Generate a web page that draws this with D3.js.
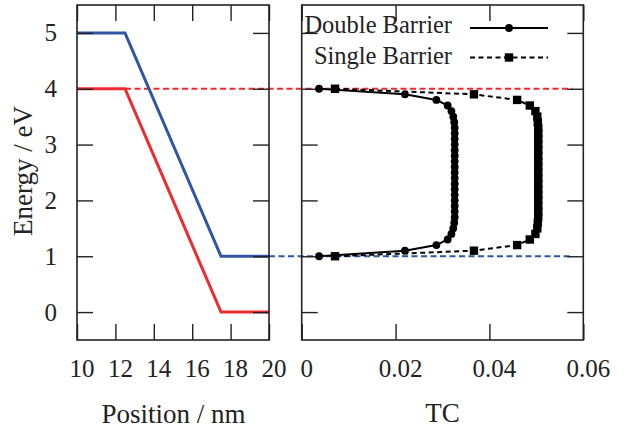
<!DOCTYPE html>
<html>
<head>
<meta charset="utf-8">
<script src="https://cdn.jsdelivr.net/npm/d3@7"></script>
<style>
  body { margin: 0; background: #fff; }
  svg text { font-family: "Liberation Serif", "Times New Roman", serif; fill: #222; }
</style>
</head>
<body>
<div id="chart"></div>
<script>
// band profile (left panel)
var positions = [10, 12.5, 17.5, 20]
var upperBand = [5, 5, 1, 1]
var lowerBand = [4, 4, 0, 0]

// transmission coefficient vs energy (right panel)
var energies = [4.0, 3.9, 3.8, 3.7, 3.6, 3.5, 3.4, 3.3, 3.2, 3.1, 3.0,
                2.9, 2.8, 2.7, 2.6, 2.5, 2.4, 2.3, 2.2, 2.1, 2.0,
                1.9, 1.8, 1.7, 1.6, 1.5, 1.4, 1.3, 1.2, 1.1, 1.0]
var tcDouble = [0.0037, 0.0220, 0.0287, 0.0311, 0.0319, 0.0323, 0.0325, 0.0326, 0.0326, 0.0326, 0.0326,
                0.0326, 0.0326, 0.0326, 0.0326, 0.0326, 0.0326, 0.0326, 0.0326, 0.0326, 0.0326,
                0.0326, 0.0326, 0.0326, 0.0325, 0.0323, 0.0319, 0.0311, 0.0287, 0.0220, 0.0037]
var tcSingle = [0.0071, 0.0367, 0.0459, 0.0486, 0.0498, 0.0502, 0.0503, 0.0504, 0.0504, 0.0504, 0.0504,
                0.0504, 0.0504, 0.0504, 0.0504, 0.0504, 0.0504, 0.0504, 0.0504, 0.0504, 0.0504,
                0.0504, 0.0504, 0.0504, 0.0503, 0.0502, 0.0498, 0.0486, 0.0459, 0.0367, 0.0071]

var posTicks = [10, 12, 14, 16, 18, 20]
var energyTicks = [0, 1, 2, 3, 4, 5]
var tcTicks = [0, 0.02, 0.04, 0.06]

;(function() {
    var width = 637, height = 432
    var plotTop = 5, plotBottom = 340
    var tick = 16

    var svg = d3.select("#chart").append("svg")
        .attr("width", width)
        .attr("height", height)

    var y = d3.scaleLinear().domain([-0.5, 5.5]).range([plotBottom, plotTop])
    var xL = d3.scaleLinear().domain([10, 20]).range([77, 269])
    var xR = d3.scaleLinear().domain([0, 0.06]).range([301.7, 583.3])

    // dashed reference levels running across both panels
    svg.append("line")
        .attr("x1", xL(12.5)).attr("x2", xR(0.0577))
        .attr("y1", y(4)).attr("y2", y(4))
        .attr("stroke", "#ee2a2e").attr("stroke-width", 2)
        .attr("stroke-dasharray", "6,3.5")
    svg.append("line")
        .attr("x1", xL(20)).attr("x2", xR(0.0575))
        .attr("y1", y(1)).attr("y2", y(1))
        .attr("stroke", "#2f55a4").attr("stroke-width", 2)
        .attr("stroke-dasharray", "6,3.5")

    function frame(x0, x1) {
        svg.append("rect")
            .attr("x", x0).attr("y", plotTop)
            .attr("width", x1 - x0).attr("height", plotBottom - plotTop)
            .attr("fill", "none").attr("stroke", "#222").attr("stroke-width", 1.6)
    }

    function styleAxis(g) {
        g.select(".domain").remove()
        g.attr("font-family", null)
        g.selectAll(".tick line").attr("stroke", "#222").attr("stroke-width", 1.4)
        g.selectAll("text").style("font-size", "25px").attr("fill", "#222")
    }

    // ---- left panel ----
    var bandLine = d3.line()
        .x(function(d) { return xL(d[0]) })
        .y(function(d) { return y(d[1]) })

    svg.append("path")
        .datum(d3.zip(positions, lowerBand))
        .attr("d", bandLine)
        .attr("fill", "none").attr("stroke", "#ee2a2e").attr("stroke-width", 3)
    svg.append("path")
        .datum(d3.zip(positions, upperBand))
        .attr("d", bandLine)
        .attr("fill", "none").attr("stroke", "#2f55a4").attr("stroke-width", 3)

    svg.append("g")
        .attr("transform", "translate(0," + plotBottom + ")")
        .call(d3.axisBottom(xL).tickValues(posTicks).tickSize(-tick).tickFormat(d3.format("d")))
        .call(styleAxis)
        .selectAll("text").attr("y", 37).attr("dy", 0).attr("dx", 4.5)
    svg.append("g")
        .attr("transform", "translate(0," + plotTop + ")")
        .call(d3.axisTop(xL).tickValues(posTicks).tickSize(-tick).tickFormat(""))
        .call(styleAxis)
    svg.append("g")
        .attr("transform", "translate(" + xL(10) + ",0)")
        .call(d3.axisLeft(y).tickValues(energyTicks).tickSize(-tick).tickFormat(d3.format("d")))
        .call(styleAxis)
        .selectAll("text").attr("x", -20)
    svg.append("g")
        .attr("transform", "translate(" + xL(20) + ",0)")
        .call(d3.axisRight(y).tickValues(energyTicks).tickSize(-tick).tickFormat(""))
        .call(styleAxis)
    frame(xL(10), xL(20))

    // ---- right panel ----
    var tcFormat = function(d) { return d === 0 ? "0" : d3.format(".2f")(d) }

    svg.append("g")
        .attr("transform", "translate(0," + plotBottom + ")")
        .call(d3.axisBottom(xR).tickValues(tcTicks).tickSize(-tick).tickFormat(tcFormat))
        .call(styleAxis)
        .selectAll("text").attr("y", 37).attr("dy", 0).attr("dx", 4.5)
    svg.append("g")
        .attr("transform", "translate(0," + plotTop + ")")
        .call(d3.axisTop(xR).tickValues(tcTicks).tickSize(-tick).tickFormat(""))
        .call(styleAxis)
    svg.append("g")
        .attr("transform", "translate(" + xR(0) + ",0)")
        .call(d3.axisLeft(y).tickValues(energyTicks).tickSize(-tick).tickFormat(""))
        .call(styleAxis)
    svg.append("g")
        .attr("transform", "translate(" + xR(0.06) + ",0)")
        .call(d3.axisRight(y).tickValues(energyTicks).tickSize(-tick).tickFormat(""))
        .call(styleAxis)
    frame(xR(0), xR(0.06))

    var tcLine = d3.line()
        .x(function(d) { return xR(d[0]) })
        .y(function(d) { return y(d[1]) })

    var single = d3.zip(tcSingle, energies)
    var dbl = d3.zip(tcDouble, energies)

    svg.append("path")
        .datum(single)
        .attr("d", tcLine)
        .attr("fill", "none").attr("stroke", "#000").attr("stroke-width", 2)
        .attr("stroke-dasharray", "5,3.5")
    svg.selectAll(".sq")
        .data(single)
        .enter().append("rect")
        .attr("class", "sq")
        .attr("x", function(d) { return xR(d[0]) - 4.2 })
        .attr("y", function(d) { return y(d[1]) - 4.2 })
        .attr("width", 8.4).attr("height", 8.4)
        .attr("fill", "#000")

    svg.append("path")
        .datum(dbl)
        .attr("d", tcLine)
        .attr("fill", "none").attr("stroke", "#000").attr("stroke-width", 2)
    svg.selectAll(".dot")
        .data(dbl)
        .enter().append("circle")
        .attr("class", "dot")
        .attr("cx", function(d) { return xR(d[0]) })
        .attr("cy", function(d) { return y(d[1]) })
        .attr("r", 3.9)
        .attr("fill", "#000")

    // legend
    var legend = [
        { label: "Double Barrier", dash: null, marker: "circle", ty: 33, ly: 28 },
        { label: "Single Barrier", dash: "5,3.5", marker: "square", ty: 64, ly: 57.5 }
    ]
    legend.forEach(function(d) {
        svg.append("text")
            .attr("x", 452).attr("y", d.ty)
            .attr("text-anchor", "end")
            .style("font-size", "24.5px")
            .text(d.label)
        svg.append("line")
            .attr("x1", 470).attr("x2", 548)
            .attr("y1", d.ly).attr("y2", d.ly)
            .attr("stroke", "#000").attr("stroke-width", 2)
            .attr("stroke-dasharray", d.dash)
        if (d.marker === "circle") {
            svg.append("circle").attr("cx", 509).attr("cy", d.ly).attr("r", 3.9).attr("fill", "#000")
        } else {
            svg.append("rect").attr("x", 504.8).attr("y", d.ly - 4.2)
                .attr("width", 8.4).attr("height", 8.4).attr("fill", "#000")
        }
    })

    // axis titles
    svg.append("text")
        .attr("transform", "translate(32,171) rotate(-90)")
        .attr("text-anchor", "middle")
        .style("font-size", "27px")
        .text("Energy / eV")
    svg.append("text")
        .attr("x", 173.5).attr("y", 423)
        .attr("text-anchor", "middle")
        .style("font-size", "27px")
        .text("Position / nm")
    svg.append("text")
        .attr("x", 442.5).attr("y", 422)
        .attr("text-anchor", "middle")
        .style("font-size", "27px")
        .text("TC")
})();
</script>
</body>
</html>
